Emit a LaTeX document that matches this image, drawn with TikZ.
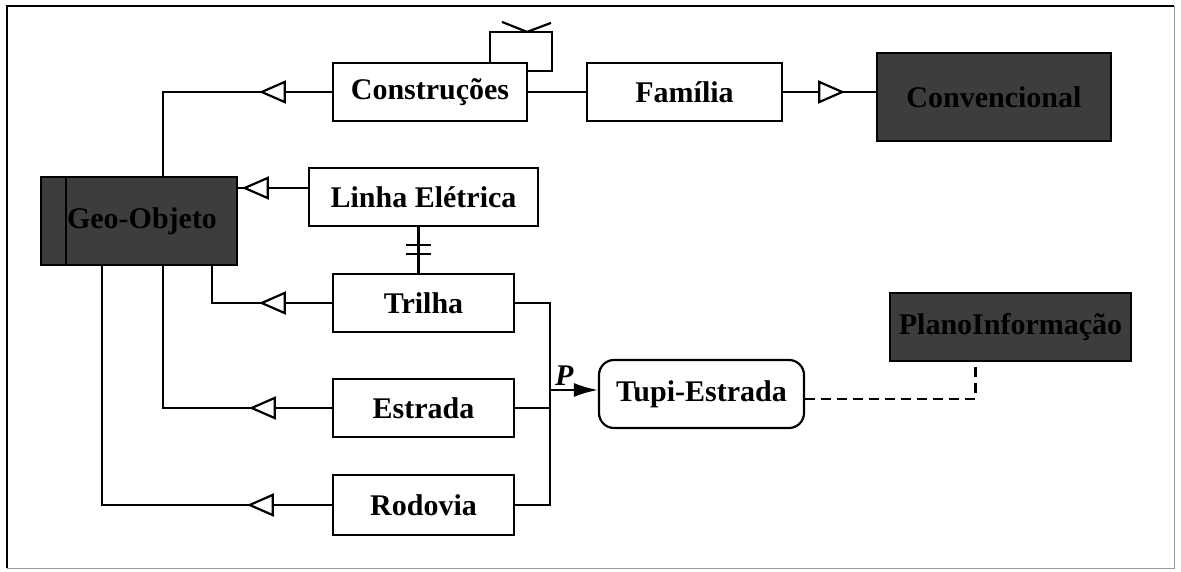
\documentclass[tikz,border=0pt]{standalone}
\usepackage{fontspec}
\setmainfont{Liberation Serif}
\usetikzlibrary{arrows.meta, decorations.markings}

\tikzset{
    entity/.style={draw, line width=2.2pt, minimum height=58pt, inner sep=0pt,
        font=\fontsize{30}{32}\selectfont\bfseries},
    darkentity/.style={entity, fill=black!76},
    link/.style={line width=2.2pt},
    isa/.style={postaction={decorate}, decoration={markings,
        mark=at position #1 with {\arrow[line width=2.2pt]{Triangle[open, fill=white, length=27pt, width=23pt]}}}},
    onlyone/.style={postaction={decorate}, decoration={markings,
        mark=at position 18pt with {\draw[line width=2.2pt] (0pt,-12.5pt) -- (0pt,12.5pt);},
        mark=at position 27pt with {\draw[line width=2.2pt] (0pt,-12.5pt) -- (0pt,12.5pt);}}}
}

\begin{document}
\begin{tikzpicture}[x=1pt, y=1pt]
            \useasboundingbox (0, 0) rectangle (1181, 571);
            \draw [line width=2.6pt] (7, 3) -- (7, 565) -- (1174, 565);
            \draw [black!40, line width=0.8pt] (7, 3) -- (1174, 3) -- (1174, 565);

            \node [entity, minimum width=194pt] (construcoes) at (430, 479) {Construções};
            \node [entity, minimum width=195pt] (familia) at (684.5, 479) {Família};
            \node [darkentity, minimum width=234pt, minimum height=88pt] (convencional) at (994, 474) {Convencional};
            \node [darkentity, minimum width=196pt, minimum height=88pt] (geo) at (139, 350) {\hspace{6pt}Geo-Objeto};
            \node [entity, minimum width=229pt] (linha) at (423.5, 374) {Linha Elétrica\hspace{30pt}};
            \node [entity, minimum width=181pt] (trilha) at (423.5, 268) {Trilha};
            \node [entity, minimum width=181pt] (estrada) at (423.5, 163) {Estrada};
            \node [entity, minimum width=181pt, minimum height=60pt] (rodovia) at (423.5, 66) {Rodovia};
            \node [entity, minimum width=205pt, minimum height=68pt, rounded corners=15pt] (tupi) at (701.5, 177) {Tupi-Estrada};
            \node [darkentity, minimum width=241pt, minimum height=68pt] (plano) at (1010.5, 244) {PlanoInformação};

            \draw [link] ([xshift=26pt]geo.north west) -- ([xshift=26pt]geo.south west);

            % self relationship of Construcoes
            \coordinate (crow) at ([xshift=97pt, yshift=30pt]construcoes.north);
            \draw [link] ([xshift=60pt]construcoes.north) -- ++(0, 30) -| ([xshift=24pt, yshift=21pt]construcoes.east) -- ([yshift=21pt]construcoes.east);
            \draw [link] (crow) +(-25, 10) -- (crow) -- +(24, 9);

            \draw [link] (construcoes.east) -- (familia.west);
            \draw [link, isa=62pt] (familia.east) -- (familia.east -| convencional.west);

            % generalisations
            \draw [link, isa=73pt] (construcoes.west) -| ([xshift=24pt]geo.north);
            \draw [link, isa=66pt] ([yshift=9pt]linha.west) -- ([yshift=9pt]linha.west -| geo.east);
            \draw [link, isa=73pt] (trilha.west) -| ([xshift=73pt]geo.south);
            \draw [link, isa=83pt] (estrada.west) -| ([xshift=24pt]geo.south);
            \draw [link, isa=85pt] (rodovia.west) -| ([xshift=-37pt]geo.south);

            \draw [link, onlyone] ([xshift=-5pt]linha.south) -- ([xshift=-5pt]trilha.north);

            % part of Tupi-Estrada
            \coordinate (bus) at (550, 0);
            \draw [link] (trilha.east) -- (trilha.east -| bus) |- (rodovia.east);
            \draw [link] (estrada.east) -- (estrada.east -| bus);
            \draw [link, -{Latex[length=24pt, width=14pt]}] ([yshift=4pt]tupi.west -| bus) -- ([yshift=4pt]tupi.west)
                node [pos=0.3, above, inner sep=3pt, font=\fontsize{30}{32}\selectfont\bfseries\itshape] (p) {P};
            \draw [link, dashed, dash pattern=on 10pt off 6pt] ([yshift=-5pt]tupi.east) -| ([xshift=-35pt]plano.south);
        \end{tikzpicture}
\end{document}
